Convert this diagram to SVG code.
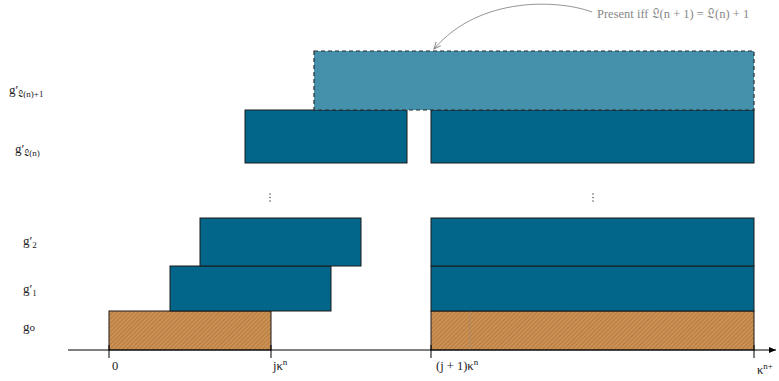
<svg xmlns="http://www.w3.org/2000/svg" width="779" height="381" viewBox="0 0 779 381">
  <defs>
    <pattern id="hatch" width="3" height="3" patternUnits="userSpaceOnUse" patternTransform="rotate(45)">
      <rect width="3" height="3" fill="#d0914f"/>
      <line x1="0" y1="0" x2="0" y2="3" stroke="#8f6a48" stroke-width="1.1"/>
    </pattern>
    <marker id="arrow" markerWidth="8" markerHeight="8" refX="7" refY="4" orient="auto" markerUnits="userSpaceOnUse">
      <path d="M0,1 L7,4 L0,7 Z" fill="#000"/>
    </marker>
    <marker id="arrowGrey" markerWidth="8" markerHeight="8" refX="7" refY="4" orient="auto" markerUnits="userSpaceOnUse">
      <path d="M0,1 L7,4 L0,7" fill="none" stroke="#888" stroke-width="1"/>
    </marker>
  </defs>
  <style>
    .block { fill: #02668a; stroke: #1a1a1a; stroke-width: 1; }
    .opt { fill: #4590aa; stroke: #2a2a2a; stroke-width: 1.2; stroke-dasharray: 4 3; }
    .base { fill: url(#hatch); stroke: #1a1a1a; stroke-width: 1; }
    .lbl { font-family: "Liberation Serif", "DejaVu Serif", serif; font-size: 13px; fill: #222; }
    .tick { font-family: "Liberation Serif", "DejaVu Serif", serif; font-size: 12.5px; fill: #222; }
    .note { font-family: "Liberation Serif", "DejaVu Serif", serif; font-size: 12.5px; fill: #888; }
    .axis { stroke: #000; stroke-width: 1; fill: none; }
  </style>

  <rect width="779" height="381" fill="#fff"/>

  <!-- row labels -->
  <g id="row-labels" class="lbl">
    <text x="9" y="94">g′<tspan font-size="9" dy="3">𝔏(n)+1</tspan></text>
    <text x="15" y="153">g′<tspan font-size="9" dy="3">𝔏(n)</tspan></text>
    <text x="23" y="245">g′<tspan font-size="9" dy="3">2</tspan></text>
    <text x="23" y="293">g′<tspan font-size="9" dy="3">1</tspan></text>
    <text x="23" y="331">g<tspan font-size="11">o</tspan></text>
  </g>

  <!-- g0 row -->
  <g id="g0-left"><rect class="base" x="109" y="311" width="162" height="39"/></g>
  <g id="g0-right">
    <rect class="base" x="431" y="311" width="323" height="39"/>
    <line x1="470" y1="311" x2="470" y2="350" stroke="#888" stroke-width="1" stroke-dasharray="1 1" opacity="0.8"/>
  </g>

  <!-- g'1 row -->
  <g id="g1-left"><rect class="block" x="170" y="266" width="161" height="45"/></g>
  <g id="g1-right"><rect class="block" x="431" y="266" width="323" height="45"/></g>

  <!-- g'2 row -->
  <g id="g2-left"><rect class="block" x="200" y="218" width="161" height="48"/></g>
  <g id="g2-right"><rect class="block" x="431" y="218" width="323" height="48"/></g>

  <!-- ellipses -->
  <g id="vdots" fill="#333">
    <circle cx="270" cy="194" r="0.7"/><circle cx="270" cy="197.5" r="0.7"/><circle cx="270" cy="201" r="0.7"/>
    <circle cx="593" cy="194" r="0.7"/><circle cx="593" cy="197.5" r="0.7"/><circle cx="593" cy="201" r="0.7"/>
  </g>

  <!-- g'L(n) row -->
  <g id="gL-left"><rect class="block" x="245" y="110" width="162" height="53"/></g>
  <g id="gL-right"><rect class="block" x="431" y="110" width="323" height="53"/></g>

  <!-- optional g'L(n)+1 row -->
  <g id="gL1"><rect class="opt" x="314" y="51" width="440" height="59"/></g>

  <!-- axis and annotation -->
  <g id="connectors">
    <line class="axis" x1="68" y1="350" x2="776" y2="350" marker-end="url(#arrow)"/>
    <line class="axis" x1="109" y1="345" x2="109" y2="358"/>
    <line class="axis" x1="271" y1="345" x2="271" y2="358"/>
    <line class="axis" x1="431" y1="345" x2="431" y2="358"/>
    <line class="axis" x1="754" y1="345" x2="754" y2="358"/>
    <path d="M592,12 C560,0 480,-5 434,49" fill="none" stroke="#888" stroke-width="0.9" marker-end="url(#arrowGrey)"/>
  </g>

  <g id="tick-labels" class="tick">
    <text x="112" y="370">0</text>
    <text x="273" y="370">jκ<tspan font-size="9" dy="-5">n</tspan></text>
    <text x="436" y="370">(j + 1)κ<tspan font-size="9" dy="-5">n</tspan></text>
    <text x="757" y="374">κ<tspan font-size="9" dy="-5">n+</tspan></text>
  </g>

  <g id="note">
    <text class="note" x="597" y="18">Present iff 𝔏(n + 1) = 𝔏(n) + 1</text>
  </g>
</svg>
